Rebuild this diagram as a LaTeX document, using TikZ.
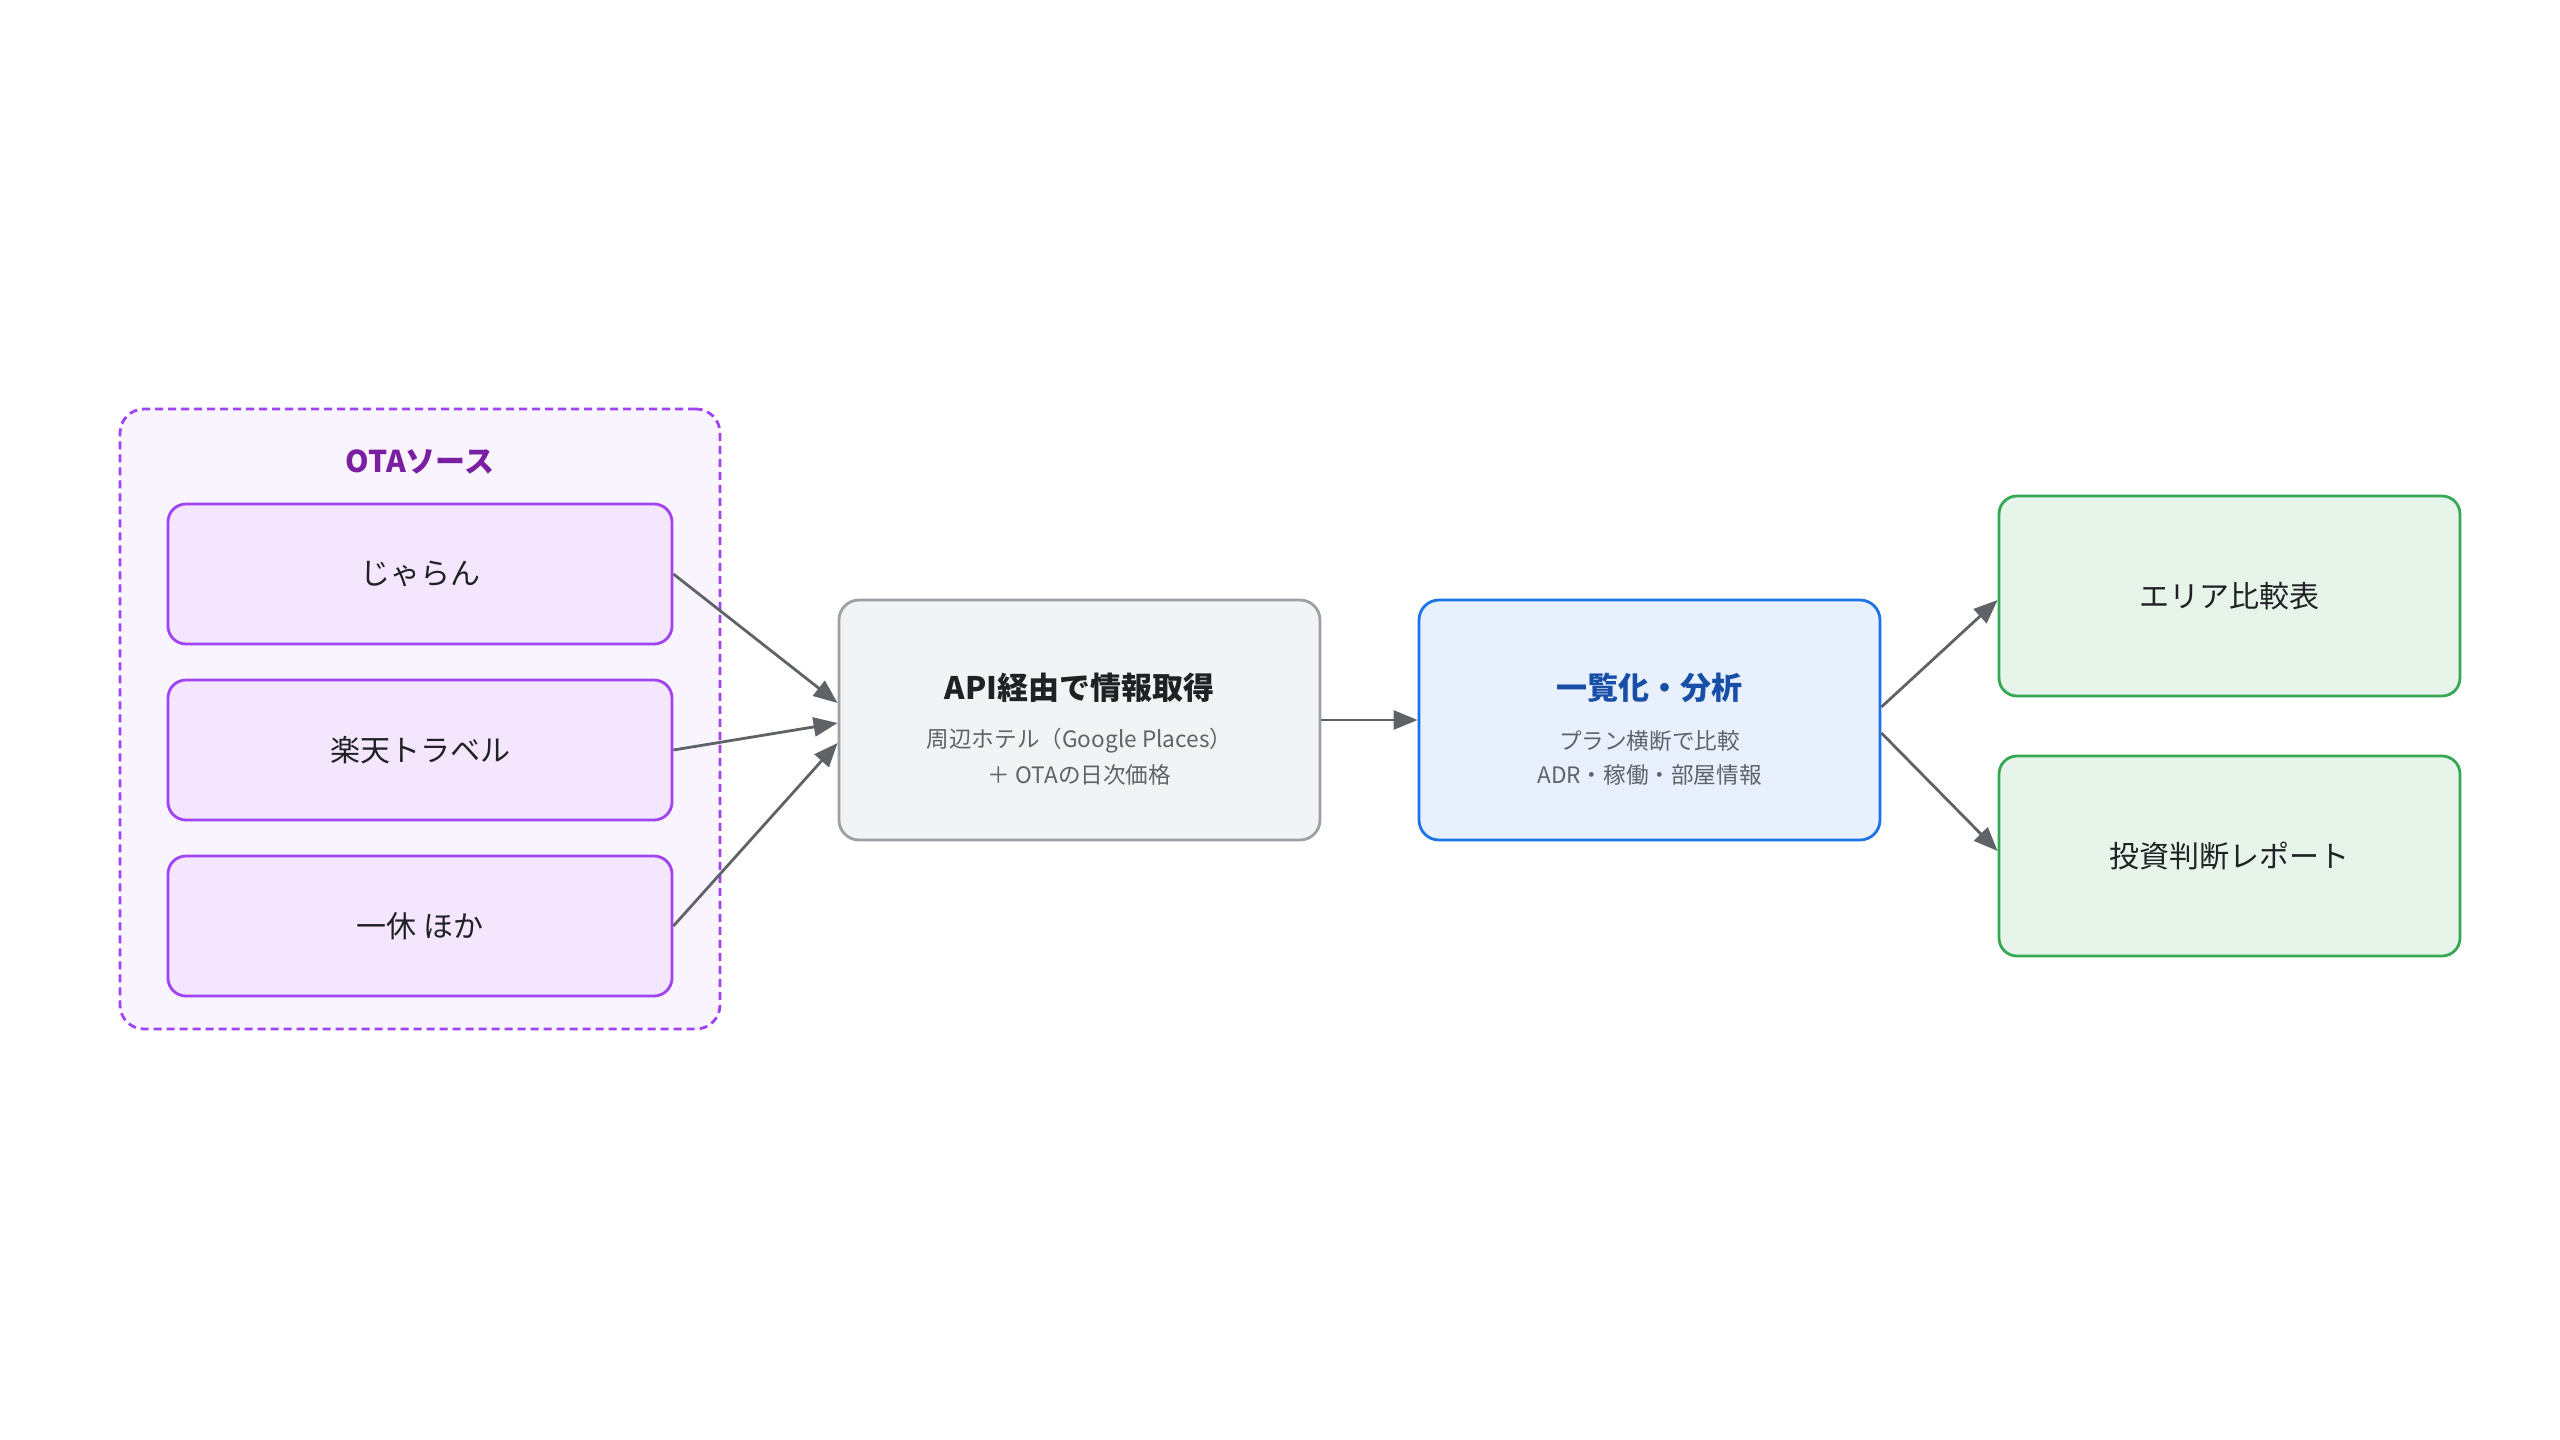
\documentclass[tikz,border=0pt]{standalone}
\usepackage{fontspec}
\setmainfont{Noto Sans CJK JP}
\usetikzlibrary{arrows.meta,calc}
\definecolor{purpleline}{HTML}{A142F4}
\definecolor{purplegroup}{HTML}{F9F4FE}
\definecolor{purplebox}{HTML}{F3E6FD}
\definecolor{purpletitle}{HTML}{7B1FA2}
\definecolor{grayline}{HTML}{9AA0A6}
\definecolor{graybox}{HTML}{F1F3F4}
\definecolor{blueline}{HTML}{1A73E8}
\definecolor{bluebox}{HTML}{E8F0FE}
\definecolor{bluetitle}{HTML}{174EA6}
\definecolor{greenline}{HTML}{34A853}
\definecolor{greenbox}{HTML}{E6F4EA}
\definecolor{arrowgray}{HTML}{5F6368}
\definecolor{maintext}{HTML}{202124}
\definecolor{subtext}{HTML}{5F6368}
\tikzset{
  groupbox/.style={draw=purpleline, fill=purplegroup, line width=1.4pt, dash pattern=on 4pt off 2.5pt, rounded corners=12pt, minimum width=300pt, minimum height=310pt},
  grouptitle/.style={text=purpletitle, font=\fontsize{15pt}{18pt}\selectfont\bfseries},
  srcbox/.style={draw=purpleline, fill=purplebox, line width=1.4pt, rounded corners=9pt, minimum width=252pt, minimum height=70pt, text=maintext, font=\fontsize{15pt}{18pt}\selectfont},
  procbox/.style={line width=1.4pt, rounded corners=10pt, minimum width=240.5pt, minimum height=120pt},
  apibox/.style={procbox, draw=grayline, fill=graybox},
  anabox/.style={procbox, draw=blueline, fill=bluebox, minimum width=230.5pt},
  outbox/.style={draw=greenline, fill=greenbox, line width=1.4pt, rounded corners=9pt, minimum width=230.5pt, minimum height=100pt, text=maintext, font=\fontsize{15pt}{18pt}\selectfont},
  boxtitle/.style={font=\fontsize{15.5pt}{18pt}\selectfont\bfseries},
  boxsub/.style={text=subtext, font=\fontsize{11.3pt}{13.5pt}\selectfont},
  arr/.style={draw=arrowgray, line width=1.4pt, -{Triangle[length=12pt,width=9.5pt]}}
}
\begin{document}
\begin{tikzpicture}[x=0.5pt,y=-0.5pt]
\useasboundingbox[fill=white] (0,0) rectangle (2560,1440);
% group
\node[groupbox] (grp) at (420,719) {};
\node[grouptitle] (grpt) at (420,462) {OTAソース};
% sources
\node[srcbox] (s1) at (420,574) {じゃらん};
\node[srcbox] (s2) at (420,750) {楽天トラベル};
\node[srcbox] (s3) at (420,926) {一休 ほか};
% API
\node[apibox] (api) at (1079.5,720) {};
\node[boxtitle, text=maintext] (apit) at ($(api.center)+(0,-32)$) {API経由で情報取得};
\node[boxsub] (apis1) at ($(api.center)+(0,21)$) {周辺ホテル（Google Places）};
\node[boxsub] (apis2) at ($(api.center)+(0,55)$) {＋ OTAの日次価格};
% analysis
\node[anabox] (ana) at (1649.5,720) {};
\node[boxtitle, text=bluetitle] (anat) at ($(ana.center)+(0,-32)$) {一覧化・分析};
\node[boxsub] (anas1) at ($(ana.center)+(0,21)$) {プラン横断で比較};
\node[boxsub] (anas2) at ($(ana.center)+(0,55)$) {ADR・稼働・部屋情報};
% outputs
\node[outbox] (r1) at (2229.5,596) {エリア比較表};
\node[outbox] (r2) at (2229.5,856) {投資判断レポート};
% arrows
\draw[arr] (s1.east) -- ($(api.west)+(0,-17)$);
\draw[arr] (s2.east) -- ($(api.west)+(0,3)$);
\draw[arr] (s3.east) -- ($(api.west)+(0,23)$);
\draw[arr] (api.east) -- (ana.west);
\draw[arr] ($(ana.east)+(0,-13)$) -- ($(r1.west)+(0,4)$);
\draw[arr] ($(ana.east)+(0,13)$) -- ($(r2.west)+(0,-5)$);
\end{tikzpicture}
\end{document}
